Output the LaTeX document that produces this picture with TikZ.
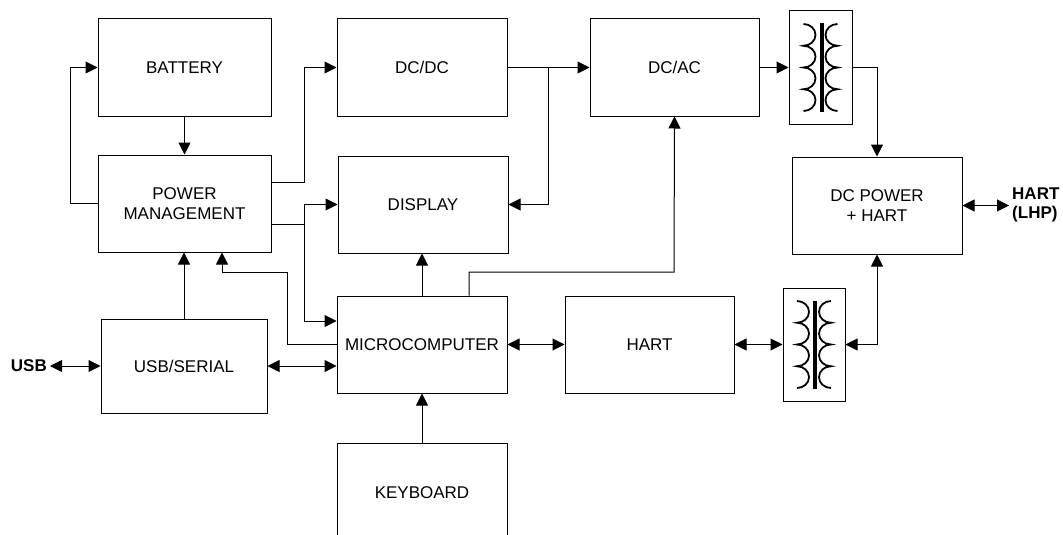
\documentclass[tikz,border=0pt]{standalone}
\usepackage{fontspec}
\setmainfont{Liberation Sans}
\usetikzlibrary{arrows.meta,calc}
\begin{document}
\begin{tikzpicture}[x=1pt,y=-1pt,
  box/.style={draw, line width=1pt, inner sep=0pt, align=center,
    font=\fontsize{17}{19.5}\selectfont},
  ln/.style={line width=1pt},
  arr/.style={ln, -{Triangle[length=12pt,width=12pt]}},
  darr/.style={ln, {Triangle[length=12pt,width=12pt]}-{Triangle[length=12pt,width=12pt]}},
  lbl/.style={font=\fontsize{17}{19.5}\selectfont\bfseries, inner sep=3pt, align=left},
  coil/.style={line width=1.8pt},
  core/.style={line width=4pt}]
\useasboundingbox (0,0) rectangle (1063,535);
\clip (0,0) rectangle (1063,535);

% boxes
\node[box, minimum width=173pt, minimum height=97pt] (bat)   at (184.5,67.5)  {BATTERY};
\node[box, minimum width=173pt, minimum height=97pt] (pm)    at (184.5,203.5) {POWER\\MANAGEMENT};
\node[box, minimum width=166pt, minimum height=94pt] (usb)   at (184,366)     {USB/SERIAL};
\node[box, minimum width=170pt, minimum height=97pt] (dcdc)  at (422,67.5)    {DC/DC};
\node[box, minimum width=170pt, minimum height=97pt] (disp)  at (423,204.5)   {DISPLAY};
\node[box, minimum width=170pt, minimum height=97pt] (micro) at (422,344.5)   {MICROCOMPUTER};
\node[box, minimum width=170pt, minimum height=100pt] (kb)   at (422,493)     {KEYBOARD};
\node[box, minimum width=169pt, minimum height=97pt] (dcac)  at (674.5,67.5)  {DC/AC};
\node[box, minimum width=169pt, minimum height=97pt] (hart)  at (649.5,344.5) {HART};
\node[box, minimum width=170pt, minimum height=97pt] (dcp)   at (877,205.5)   {DC POWER\\+ HART};
\node[box, minimum width=63pt, minimum height=113pt] (tr1)   at (820.5,67.5)  {};
\node[box, minimum width=62pt, minimum height=113pt] (tr2)   at (814,344.5)   {};

% transformer symbols
\foreach \t in {tr1,tr2}{
  \draw[coil] ($(\t.center)+(-17,43.5)$)
    \foreach \i in {1,...,4}{ arc[start angle=90, end angle=-90, x radius=12, y radius=10.875] };
  \draw[coil] ($(\t.center)+(17,43.5)$)
    \foreach \i in {1,...,4}{ arc[start angle=90, end angle=270, x radius=12, y radius=10.875] };
  \draw[core] ($(\t.center)+(1,-44)$) -- ($(\t.center)+(1,44)$);
}

% labels
\node[lbl, anchor=east] (usbl) at (50,366) {USB};
\node[lbl, anchor=west] (hartl) at (1009,205) {HART\\(LHP)};

% connectors
\draw[arr] (bat.south) -- (bat.south |- pm.north);
\draw[arr] (pm.west) -- ++(-27,0) |- (bat.west);
\draw[arr] (pm.east |- 0,182) -- (304,182) |- (dcdc.west);
\coordinate (j1) at (304,224);
\draw[arr] (pm.east |- j1) -- (j1) |- (disp.west);
\draw[arr] (j1) |- (micro.west |- 0,321);
\draw[arr] (micro.west |- 0,344) -| (287,272) -| (pm.south -| 222,0);
\draw[arr] (usb.north) -- (usb.north |- pm.south);
\draw[darr] (usb.east) -- (usb.east -| micro.west);
\draw[darr] (usbl.east) -- (usbl.east -| usb.west);
\draw[arr] (kb.north) -- (micro.south);

\draw[arr] (dcdc.east) -- (dcac.west);
\coordinate (j2) at (548,67.5);
\draw[arr] (j2) |- (disp.east);
\draw[arr] (micro.north) -- (micro.north |- disp.south);
\draw[arr] (micro.north -| 469,0) |- (674,272) -- (dcac.south);
\draw[arr] (dcac.east) -- (tr1.west);
\draw[arr] (tr1.east) -| (dcp.north);
\draw[darr] (micro.east) -- (hart.west);
\draw[darr] (hart.east) -- (tr2.west);
\draw[darr] (tr2.east) -| (dcp.south);
\draw[darr] (dcp.east) -- (hartl.west |- dcp.east);
\end{tikzpicture}
\end{document}
